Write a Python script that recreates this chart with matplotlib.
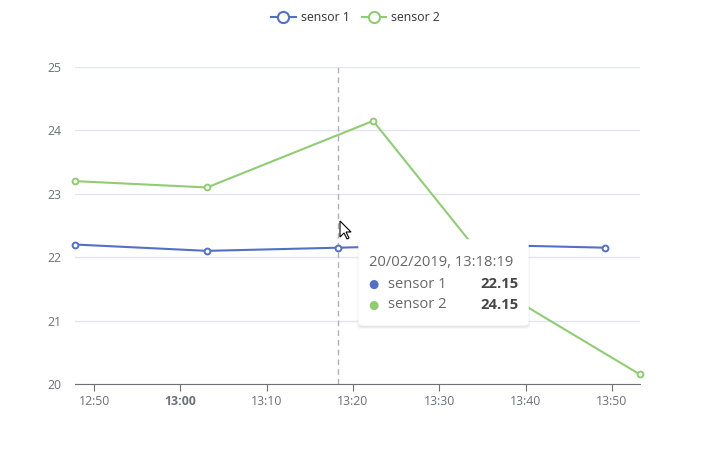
import datetime as dt
import matplotlib
matplotlib.use('Agg')
import matplotlib.pyplot as plt
import matplotlib.dates as mdates
from matplotlib.lines import Line2D
from matplotlib.patches import FancyBboxPatch, Polygon

plt.rcParams['font.family'] = ['Open Sans', 'DejaVu Sans']

day = '2019-02-20 '
s1_times = ['12:47:48', '13:03:06', '13:18:19', '13:33:34', '13:49:13']
s1_vals = [22.2, 22.1, 22.15, 22.2, 22.15]
s2_times = ['12:47:48', '13:03:06', '13:22:20', '13:39:08', '13:53:15']
s2_vals = [23.2, 23.1, 24.15, 21.3, 20.15]
tick_times = ['12:50', '13:00', '13:10', '13:20', '13:30', '13:40', '13:50']
hover_time = '13:18:19'
hover_label = '20/02/2019, 13:18:19'
hover_vals = [22.15, 24.15]
names = ['sensor 1', 'sensor 2']
colors = ['#5470c6', '#91cc75']

def to_dt(ts):
    return [dt.datetime.strptime(day + t, '%Y-%m-%d %H:%M:%S') for t in ts]

x1 = to_dt(s1_times)
x2 = to_dt(s2_times)
xt = to_dt([t + ':00' for t in tick_times])

W, H = 711, 449
fig = plt.figure(figsize=(W / 100, H / 100), dpi=100)
ax = fig.add_axes([75 / W, (H - 384) / H, 565 / W, 317 / H])

for xs, ys, c in [(x1, s1_vals, colors[0]), (x2, s2_vals, colors[1])]:
    ax.plot(xs, ys, color=c, lw=1.5, marker='o', ms=4.2, mfc='white',
            mec=c, mew=1.4, zorder=3, clip_on=False)

ax.set_xlim(min(x1[0], x2[0]), max(x1[-1], x2[-1]))
ax.set_ylim(20, 25)
ax.set_yticks([20, 21, 22, 23, 24, 25])
ax.grid(axis='y', color='#E0E6F1', lw=1)
ax.set_axisbelow(True)
for s in ['top', 'right', 'left']:
    ax.spines[s].set_visible(False)
ax.spines['bottom'].set_color('#6E7079')
ax.set_xticks(xt)
labels = ax.set_xticklabels(tick_times)
for lbl in labels:
    if lbl.get_text().endswith(':00'):
        lbl.set_fontweight('bold')
ax.tick_params(axis='x', colors='#6E7079', length=5, labelsize=8.8, pad=3)
ax.tick_params(axis='y', colors='#6E7079', length=0, labelsize=8.8, pad=10)

ax.axvline(to_dt([hover_time])[0], color='#B0B0B0', lw=1, ls=(0, (4, 3)), zorder=2)

handles = [Line2D([], [], color=c, lw=1.5, marker='o', ms=8, mfc='white', mec=c, mew=1.5)
           for c in colors]
fig.legend(handles, names, loc='upper center', bbox_to_anchor=(0.5, 1.0), ncol=2,
           frameon=False, fontsize=8.8, handlelength=2.0, handletextpad=0.4,
           columnspacing=1.0, labelcolor='#333333')

# tooltip
def px(x, y):
    return x / W, (H - y) / H

for i, a in enumerate([0.03, 0.03, 0.04]):
    sh = FancyBboxPatch(px(359 - i, 325 + 2 + i), (169 + 2 * i) / W, (85 + 2 * i) / H,
                        boxstyle='round,pad=0,rounding_size=0.006', transform=fig.transFigure,
                        fc='black', ec='none', alpha=a, zorder=9)
    fig.add_artist(sh)
tip = FancyBboxPatch(px(359, 325), 169 / W, 85 / H, boxstyle='round,pad=0,rounding_size=0.006',
                     transform=fig.transFigure, fc='white', ec='white', lw=1, zorder=10)
fig.add_artist(tip)
fig.text(*px(369, 263), hover_label, fontsize=10.6, color='#666666', va='center', zorder=11)
for i, (n, v, c) in enumerate(zip(names, hover_vals, colors)):
    y = 284 + 21 * i
    fig.text(*px(373, y), '\u25cf', fontsize=8.5, color=c, va='center', ha='center',
             family='DejaVu Sans', zorder=11)
    fig.text(*px(388, y), n, fontsize=10.6, color='#666666', va='center', zorder=11)
    fig.text(*px(519, y), '%.2f' % v, fontsize=10.6, color='#464646', va='center', ha='right',
             fontweight='bold', zorder=11)

# mouse cursor
cur = [(0, 0), (0, 16), (4, 12), (7, 18), (9, 17), (6, 11), (11, 11)]
fig.add_artist(Polygon([px(340 + a, 221 + b) for a, b in cur], closed=True,
                       transform=fig.transFigure, fc='white', ec='black', lw=0.8, zorder=12))

fig.savefig('out.png', dpi=100)
